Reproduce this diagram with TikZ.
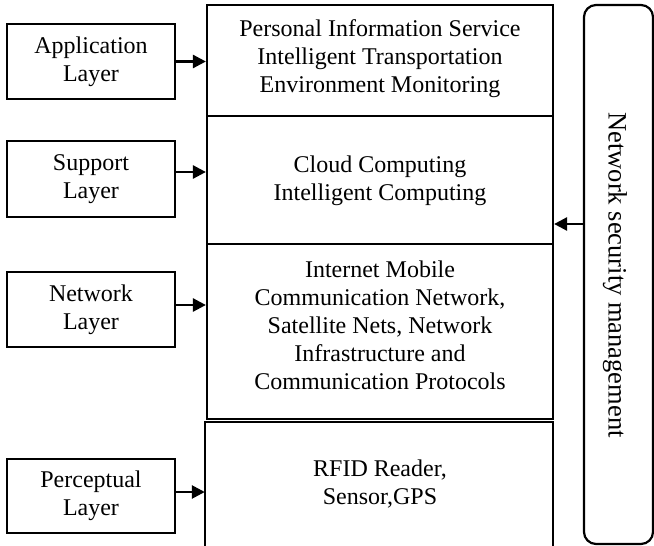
\documentclass[tikz,border=0pt]{standalone}
\usepackage{fontspec}
\setmainfont{Liberation Serif}
\usetikzlibrary{arrows.meta}
\tikzset{
  layerbox/.style={draw, line width=2.2pt, minimum width=168pt, align=center,
    inner sep=0pt, font=\fontsize{24}{28}\selectfont},
  cell/.style={draw, line width=2.2pt, inner sep=0pt},
  celltext/.style={align=center, inner sep=0pt, font=\fontsize{24}{28}\selectfont},
  link/.style={line width=2.6pt, -{Triangle[length=13pt,width=13pt]}},
}
\begin{document}
\begin{tikzpicture}[x=1pt,y=-1pt]
\useasboundingbox (0,0) rectangle (654,546);

% layer names on the left
\node[layerbox, minimum height=75pt] (app) at (91,61.5) {Application\\Layer};
\node[layerbox, minimum height=76pt] (sup) at (91,179) {Support\\Layer};
\node[layerbox, minimum height=75pt] (net) at (91,309.5) {Network\\Layer};
\node[layerbox, minimum height=74pt] (per) at (91,496) {Perceptual\\Layer};

% stacked content cells
\node[cell, minimum width=346pt, minimum height=111pt] (c1) at (380,60.5) {};
\node[cell, minimum width=346pt, minimum height=128pt] (c2) at (380,180) {};
\node[cell, minimum width=346pt, minimum height=175pt] (c3) at (380,331.5) {};
\node[minimum width=348pt, minimum height=124pt, inner sep=0pt] (c4) at (379,484) {};
\draw[line width=2.2pt] (c4.south west) -- (c4.north west) -- (c4.north east) -- (c4.south east);

\node[celltext] (t1) at (380,59) {Personal Information Service\\Intelligent Transportation\\Environment Monitoring};
\node[celltext] (t2) at (380,181) {Cloud Computing\\Intelligent Computing};
\node[celltext] (t3) at (380,325) {Internet Mobile\\Communication Network,\\Satellite Nets, Network\\Infrastructure and\\Communication Protocols};
\node[celltext] (t4) at (380,484) {RFID Reader,\\Sensor,GPS};

% security management bar
\node[draw, line width=2.2pt, rounded corners=12pt, minimum width=69pt, minimum height=539pt, inner sep=0pt] (sec) at (618.5,274.5) {};
\node[rotate=-90, inner sep=0pt, font=\fontsize{26.5}{30}\selectfont] (sect) at (615,275) {Network security management};

% connectors
\draw[link] (app.east) -- (app.east -| c1.west);
\draw[link] ([yshift=7pt]sup.east) -- ([yshift=7pt]sup.east -| c2.west);
\draw[link] ([yshift=4.5pt]net.east) -- ([yshift=4.5pt]net.east -| c3.west);
\draw[link] ([yshift=4pt]per.east) -- ([yshift=4pt]per.east -| c4.west);
\draw[link] ([yshift=50.5pt]sec.west) -- ([yshift=50.5pt]sec.west -| c2.east);
\end{tikzpicture}
\end{document}
